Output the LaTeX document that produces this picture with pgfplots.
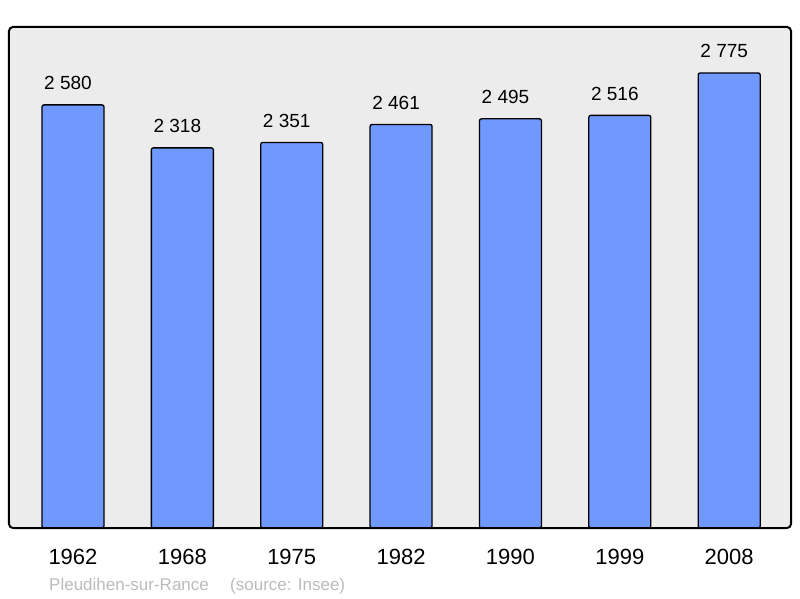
\documentclass[border=0pt]{standalone}
\usepackage{fontspec}
\setmainfont{Liberation Sans}
\usepackage{pgfplots}
\pgfplotsset{compat=1.18}

\definecolor{barblue}{HTML}{7099FF}
\definecolor{panel}{HTML}{ECECEC}
\definecolor{footgray}{HTML}{BBBBBB}

\begin{document}
\begin{tikzpicture}[x=1pt,y=1pt]
  \path[use as bounding box] (0,0) rectangle (800,598);
  \begin{axis}[
      at={(9pt,70pt)}, anchor=south west,
      scale only axis,
      width=782pt, height=501pt,
      ybar, bar width=62pt,
      xmin=-0.585, xmax=6.565,
      ymin=0, ymax=3055,
      axis line style={draw=none},
      axis background/.style={fill=panel, rounded corners=4pt},
      xtick=data,
      xticklabels={1962,1968,1975,1982,1990,1999,2008},
      ytick=\empty,
      major tick length=0pt,
      xticklabel style={font=\fontsize{22}{26}\selectfont, anchor=base, yshift=-36pt},
      nodes near coords,
      every node near coord/.append style={
        font=\fontsize{19}{22}\selectfont, anchor=base, yshift=15pt, xshift=-5pt,
        /pgf/number format/.cd, fixed, 1000 sep={\ }, assume math mode=true},
      clip=false,
    ]
    \addplot[fill=barblue, draw=black, line width=1.3pt, rounded corners=2pt] coordinates {
      (0,2580) (1,2318) (2,2351) (3,2461) (4,2495) (5,2516) (6,2775)
    };
    \draw[line width=2pt, rounded corners=4pt] (rel axis cs:0,0) rectangle (rel axis cs:1,1);
  \end{axis}
  \node[anchor=base west, inner sep=0, text=footgray, font=\fontsize{17}{20}\selectfont] at (49,8) {Pleudihen-sur-Rance};
  \node[anchor=base west, inner sep=0, text=footgray, font=\fontsize{17}{20}\selectfont] at (230,8) {(source: Insee)};
\end{tikzpicture}
\end{document}
